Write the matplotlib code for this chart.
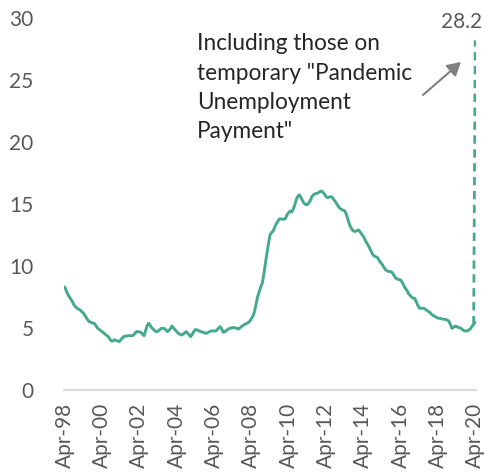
import matplotlib
matplotlib.use("Agg")
import matplotlib.pyplot as plt
import numpy as np

# Monthly unemployment rate (%), Apr-1998 .. Apr-2020
rate = [
    8.3, 8.0, 7.7, 7.5, 7.3, 7.1, 6.85, 6.7, 6.6, 6.5, 6.45, 6.3,          # Apr98-Mar99
    6.2, 6.0, 5.8, 5.6, 5.5, 5.45, 5.4, 5.38, 5.2, 5.0, 4.9, 4.8,          # Apr99-Mar00
    4.7, 4.6, 4.5, 4.4, 4.3, 4.1, 3.95, 3.95, 4.05, 4.0, 3.95, 3.9,        # Apr00-Mar01
    4.05, 4.2, 4.3, 4.35, 4.35, 4.38, 4.38, 4.38, 4.4, 4.55, 4.7, 4.7,     # Apr01-Mar02
    4.68, 4.65, 4.5, 4.38, 4.8, 5.2, 5.38, 5.2, 5.0, 4.9, 4.75, 4.7,       # Apr02-Mar03
    4.75, 4.85, 4.97, 4.97, 4.97, 4.85, 4.7, 4.8, 4.95, 5.16, 5.0, 4.84,   # Apr03-Mar04
    4.7, 4.57, 4.5, 4.43, 4.5, 4.6, 4.7, 4.6, 4.45, 4.3, 4.5, 4.7,         # Apr04-Mar05
    4.88, 4.84, 4.8, 4.72, 4.7, 4.65, 4.6, 4.57, 4.62, 4.7, 4.76, 4.76,    # Apr05-Mar06
    4.76, 4.76, 4.85, 5.0, 5.11, 4.9, 4.65, 4.7, 4.8, 4.9, 4.97, 5.0,      # Apr06-Mar07
    5.03, 5.03, 5.0, 4.95, 4.92, 5.05, 5.15, 5.24, 5.3, 5.38, 5.43, 5.55,  # Apr07-Mar08
    5.75, 5.95, 6.3, 6.9, 7.5, 7.9, 8.3, 8.6, 9.3, 10.2, 11.0, 11.8,       # Apr08-Mar09
    12.5, 12.7, 12.82, 13.1, 13.4, 13.6, 13.79, 13.8, 13.78, 13.76, 13.84, 14.15,  # Apr09-Mar10
    14.3, 14.44, 14.35, 14.6, 14.95, 15.4, 15.65, 15.73, 15.5, 15.25, 15.05, 14.95,  # Apr10-Mar11
    14.95, 15.1, 15.3, 15.6, 15.75, 15.82, 15.86, 15.9, 16.0, 16.05, 15.95, 15.8,    # Apr11-Mar12
    15.6, 15.5, 15.55, 15.6, 15.55, 15.35, 15.2, 15.0, 14.8, 14.65, 14.55, 14.5,     # Apr12-Mar13
    14.45, 14.2, 13.8, 13.4, 13.1, 12.9, 12.8, 12.8, 12.85, 12.9, 12.75, 12.55,      # Apr13-Mar14
    12.4, 12.15, 11.9, 11.7, 11.45, 11.2, 10.95, 10.8, 10.75, 10.7, 10.5, 10.3,      # Apr14-Mar15
    10.15, 9.95, 9.75, 9.62, 9.58, 9.55, 9.54, 9.4, 9.2, 9.0, 8.95, 8.9,             # Apr15-Mar16
    8.87, 8.7, 8.45, 8.2, 8.05, 7.8, 7.65, 7.5, 7.42, 7.39, 7.15, 6.85,              # Apr16-Mar17
    6.6, 6.59, 6.59, 6.59, 6.5, 6.4, 6.32, 6.25, 6.1, 6.0, 5.95, 5.85,               # Apr17-Mar18
    5.8, 5.78, 5.75, 5.72, 5.7, 5.7, 5.65, 5.55, 5.3, 4.97, 5.05, 5.15,              # Apr18-Mar19
    5.12, 5.05, 5.03, 4.95, 4.85, 4.78, 4.75, 4.76, 4.85, 4.95, 5.16, 5.3,           # Apr19-Mar20
    5.46,                                                                             # Apr20
]

pup_rate = 28.2  # including Pandemic Unemployment Payment, Apr-20
pup_label = "28.2"

tick_labels = ["Apr-98", "Apr-00", "Apr-02", "Apr-04", "Apr-06", "Apr-08",
               "Apr-10", "Apr-12", "Apr-14", "Apr-16", "Apr-18", "Apr-20"]
y_ticks = [0, 5, 10, 15, 20, 25, 30]

annotation = 'Including those on\ntemporary "Pandemic\nUnemployment\nPayment"'

FONT = ["Lato", "DejaVu Sans"]
plt.rcParams["font.family"] = FONT

W, H = 488, 474
fig = plt.figure(figsize=(W / 100, H / 100), dpi=100)
ax = fig.add_axes([64 / W, (H - 390) / H, (476 - 64) / W, (390 - 18) / H])

line_color = "#45A98C"
x = np.arange(len(rate))
ax.plot(x, rate, color=line_color, lw=2.1, solid_capstyle="round", zorder=3)

# dashed jump to PUP-inclusive value
last = len(rate) - 1
ax.plot([last - 1, last], [rate[last - 1], pup_rate], color=line_color,
        lw=2.0, ls=(0, (3, 2)), zorder=3)

ax.set_xlim(-0.5, len(rate) - 0.5)
ax.set_ylim(0, 30)

ax.set_xticks(np.arange(0, len(rate), 24))
ax.set_xticklabels(tick_labels, rotation=90, fontsize=15, color="#595959")
ax.set_yticks(y_ticks)
ax.set_yticklabels([str(v) for v in y_ticks], fontsize=15, color="#595959")
ax.tick_params(axis="x", length=0, pad=9)
ax.tick_params(axis="y", length=0, pad=22)

for s in ["left", "right", "top"]:
    ax.spines[s].set_visible(False)
ax.spines["bottom"].set_color("#D9D9D9")
ax.spines["bottom"].set_linewidth(1.5)

# value label
ax.text(last - 9, pup_rate + 0.7, pup_label, fontsize=15, color="#595959",
        ha="center", va="bottom")

# annotation text
fig.text(197 / W, 1 - 33 / H, annotation, fontsize=16.3, color="#262626",
         ha="left", va="top", linespacing=1.5)

# arrow
ax.annotate("", xy=(461, H - 62), xycoords="figure pixels",
            xytext=(423, H - 95), textcoords="figure pixels",
            arrowprops=dict(arrowstyle="-|>,head_length=0.8,head_width=0.45",
                            color="#7F7F7F", lw=1.5, shrinkA=0, shrinkB=0))

fig.savefig("out.png", dpi=100)
